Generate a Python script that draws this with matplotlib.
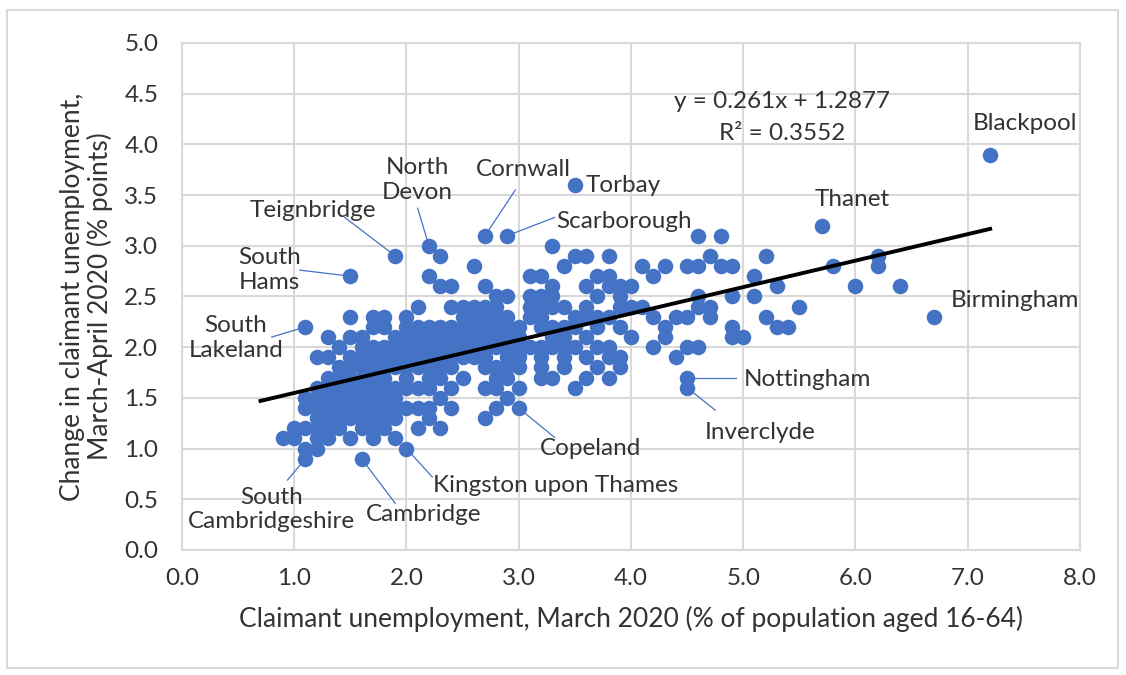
import matplotlib.pyplot as plt
from matplotlib.patches import Rectangle
import numpy as np

plt.rcParams['font.family'] = ['Lato', 'DejaVu Sans']

# claimant rate in March 2020 (x), grouped by value, with the March-April change for each area
col_x = [0.9, 1.0, 1.1, 1.2, 1.3, 1.4, 1.5, 1.6, 1.7, 1.8,
         1.9, 2.0, 2.1, 2.2, 2.3, 2.4, 2.5, 2.6, 2.7, 2.8,
         2.9, 3.0, 3.1, 3.2, 3.3, 3.4, 3.5, 3.6, 3.7, 3.8,
         3.9, 4.0, 4.1, 4.2, 4.3, 4.4, 4.5, 4.6, 4.7, 4.8,
         4.9, 5.0, 5.1, 5.2, 5.3, 5.4, 5.5, 5.7, 5.8, 6.0,
         6.2, 6.4, 6.7, 7.2]
col_y = [
    [1.1],
    [1.1, 1.2],
    [0.9, 1.0, 1.2, 1.4, 1.5, 2.2],
    [1.0, 1.1, 1.2, 1.3, 1.4, 1.5, 1.6, 1.9],
    [1.1, 1.2, 1.3, 1.4, 1.5, 1.6, 1.7, 1.9, 2.1],
    [1.2, 1.3, 1.4, 1.5, 1.6, 1.7, 1.8, 2.0],
    [1.1, 1.3, 1.4, 1.5, 1.6, 1.7, 1.8, 1.9, 2.1, 2.3, 2.7],
    [0.9, 1.2, 1.3, 1.4, 1.5, 1.6, 1.7, 1.8, 1.9, 2.0, 2.1],
    [1.1, 1.2, 1.3, 1.4, 1.5, 1.6, 1.7, 1.8, 1.9, 2.0, 2.2, 2.3],
    [1.2, 1.3, 1.4, 1.5, 1.6, 1.7, 1.8, 1.9, 2.0, 2.2, 2.3],
    [1.1, 1.3, 1.4, 1.5, 1.6, 1.8, 1.9, 2.0, 2.1, 2.9],
    [1.0, 1.4, 1.6, 1.7, 1.8, 1.9, 2.0, 2.1, 2.2, 2.3],
    [1.2, 1.4, 1.6, 1.8, 1.9, 2.0, 2.1, 2.2, 2.4],
    [1.3, 1.4, 1.6, 1.7, 1.8, 1.9, 2.0, 2.1, 2.2, 2.7, 3.0],
    [1.2, 1.5, 1.7, 1.8, 1.9, 2.0, 2.1, 2.2, 2.6, 2.9],
    [1.4, 1.6, 1.8, 1.9, 2.0, 2.1, 2.2, 2.4, 2.6],
    [1.7, 1.9, 2.0, 2.1, 2.2, 2.3, 2.4],
    [1.9, 2.0, 2.1, 2.2, 2.3, 2.4, 2.8],
    [1.3, 1.6, 1.8, 1.9, 2.0, 2.1, 2.2, 2.3, 2.4, 2.6, 3.1],
    [1.4, 1.6, 1.7, 1.8, 2.0, 2.1, 2.2, 2.3, 2.4, 2.5],
    [1.5, 1.7, 1.8, 1.9, 2.0, 2.1, 2.2, 2.3, 2.5, 3.1],
    [1.4, 1.6, 1.8, 1.9, 2.0, 2.1, 2.2],
    [2.0, 2.3, 2.4, 2.5, 2.7],
    [1.7, 1.8, 1.9, 2.0, 2.2, 2.3, 2.4, 2.5, 2.7],
    [1.7, 2.0, 2.1, 2.2, 2.4, 2.5, 2.6, 3.0],
    [1.8, 1.9, 2.0, 2.1, 2.2, 2.4, 2.8],
    [1.6, 2.0, 2.2, 2.3, 2.9, 3.6],
    [1.7, 1.9, 2.1, 2.3, 2.4, 2.6, 2.9],
    [1.8, 2.0, 2.2, 2.3, 2.5, 2.7],
    [1.7, 1.9, 2.0, 2.3, 2.6, 2.7, 2.9],
    [1.8, 1.9, 2.2, 2.4, 2.5, 2.6],
    [2.1, 2.4, 2.6],
    [2.4, 2.8],
    [2.0, 2.3, 2.7],
    [2.1, 2.2, 2.8],
    [1.9, 2.3],
    [1.6, 1.7, 2.0, 2.3, 2.8],
    [2.0, 2.4, 2.5, 2.8, 3.1],
    [2.3, 2.4, 2.9],
    [2.8, 3.1],
    [2.1, 2.2, 2.5, 2.8],
    [2.1],
    [2.5, 2.7],
    [2.3, 2.9],
    [2.2, 2.6],
    [2.2],
    [2.4],
    [3.2],
    [2.8],
    [2.6],
    [2.8, 2.9],
    [2.6],
    [2.3],
    [3.9],
]

# named local authorities
area_names = ['Blackpool', 'Thanet', 'Birmingham', 'Torbay', 'Cornwall', 'Scarborough',
              'North\nDevon', 'Teignbridge', 'South\nHams', 'South\nLakeland',
              'South\nCambridgeshire', 'Cambridge', 'Kingston upon Thames', 'Copeland',
              'Nottingham', 'Inverclyde']
area_x = [7.2, 5.7, 6.7, 3.5, 2.7, 2.9, 2.2, 1.9, 1.5, 1.1, 1.1, 1.6, 2.0, 3.0, 4.5, 4.5]
area_y = [3.9, 3.2, 2.3, 3.6, 3.1, 3.1, 3.0, 2.9, 2.7, 2.2, 0.9, 0.9, 1.0, 1.4, 1.7, 1.6]

slope, intercept = 0.261, 1.2877
r_squared = 0.3552

xs = np.concatenate([[x] * len(ys) for x, ys in zip(col_x, col_y)])
ys = np.concatenate(col_y)

blue = '#4472C4'
txt = '#333333'
grid = '#d9d9d9'
fs = 17.5

fig = plt.figure(figsize=(11.26, 6.75), dpi=100)
ax = fig.add_axes([0.1616, 0.1852, 0.7975, 0.7511])

ax.scatter(xs, ys, s=125, color=blue, linewidths=0, zorder=3)

fit_x = np.array([0.7, 7.2])
ax.plot(fit_x, slope * fit_x + intercept, color='black', lw=2.8, zorder=4)

ax.text(5.35, 4.42, f'y = {slope}x + {intercept}', ha='center', va='center',
        fontsize=fs, color=txt)
ax.text(5.35, 4.11, f'R² = {r_squared}', ha='center', va='center',
        fontsize=fs, color=txt)

# label text position and leader line start, per area (None = no line)
label_layout = [
    ((7.51, 4.21), None),
    ((5.97, 3.46), None),
    ((7.42, 2.46), None),
    ((3.93, 3.59), None),
    ((3.04, 3.75), (2.97, 3.55)),
    ((3.94, 3.24), (3.32, 3.28)),
    ((2.10, 3.65), (2.10, 3.37)),
    ((1.17, 3.35), (1.45, 3.28)),
    ((0.78, 2.76), (1.05, 2.76)),
    ((0.48, 2.09), (0.80, 2.10)),
    ((0.80, 0.40), (0.94, 0.69)),
    ((2.15, 0.35), (1.90, 0.46)),
    ((3.33, 0.64), (2.23, 0.72)),
    ((3.64, 1.00), (3.32, 1.11)),
    ((5.57, 1.68), (4.94, 1.70)),
    ((5.15, 1.16), (4.75, 1.38)),
]

for name, px, py, (tpos, lstart) in zip(area_names, area_x, area_y, label_layout):
    ax.text(tpos[0], tpos[1], name, ha='center', va='center', fontsize=fs,
            color=txt, linespacing=1.2, zorder=5)
    if lstart is not None:
        ax.plot([lstart[0], px], [lstart[1], py], color=blue, lw=0.9, zorder=2)

ax.set_xlim(0, 8)
ax.set_ylim(0, 5)
ax.set_xticks(np.arange(0, 8.5, 1.0))
ax.set_yticks(np.arange(0, 5.5, 0.5))
ax.xaxis.set_major_formatter(lambda v, p: f'{v:.1f}')
ax.yaxis.set_major_formatter(lambda v, p: f'{v:.1f}')
ax.tick_params(length=0, labelsize=fs, labelcolor=txt)
ax.tick_params(axis='x', pad=13)
ax.tick_params(axis='y', pad=17)
ax.grid(True, color=grid, lw=1.5, zorder=0)
ax.set_axisbelow(True)
for sp in ax.spines.values():
    sp.set_color(grid)
    sp.set_linewidth(1.5)

ax.set_xlabel('Claimant unemployment, March 2020 (% of population aged 16-64)',
              fontsize=19, color=txt, labelpad=12)
ax.set_ylabel('Change in claimant unemployment,\nMarch-April 2020 (% points)',
              fontsize=19, color=txt, labelpad=8, linespacing=1.1)

fig.patches.append(Rectangle((0.006, 0.011), 0.987, 0.974, transform=fig.transFigure,
                             fill=False, edgecolor='#d9d9d9', lw=1.5))

fig.savefig('out.png', dpi=100)
